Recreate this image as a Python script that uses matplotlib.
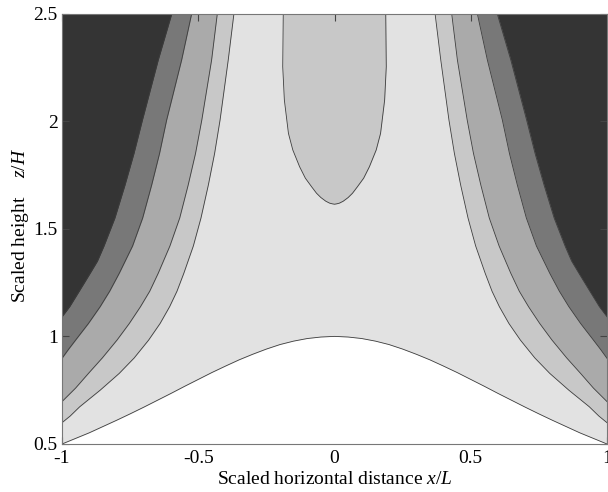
import matplotlib
matplotlib.use("Agg")
import matplotlib.pyplot as plt
import numpy as np

plt.rcParams['font.family'] = ['Liberation Serif', 'DejaVu Serif']
plt.rcParams['mathtext.fontset'] = 'custom'
plt.rcParams['mathtext.rm'] = 'Liberation Serif'
plt.rcParams['mathtext.it'] = 'Liberation Serif:italic'

# Hill (terrain) profile, left half (symmetric about x=0)
hill_x = [-1.0, -0.95, -0.9, -0.85, -0.8, -0.75, -0.7, -0.65, -0.6, -0.55, -0.5,
          -0.45, -0.4, -0.35, -0.3, -0.25, -0.2, -0.15, -0.1, -0.05, 0.0]
hill_y = [0.50, 0.526, 0.552, 0.581, 0.61, 0.64, 0.671, 0.703, 0.735, 0.768, 0.80,
          0.832, 0.862, 0.891, 0.917, 0.941, 0.962, 0.978, 0.99, 0.997, 1.0]

# Left-side contour boundaries: x position at given heights
b1_y = [2.5, 2.284, 2.005, 1.85, 1.703, 1.55, 1.42, 1.35, 1.293, 1.21, 1.138, 1.091]
b1_x = [-0.597, -0.647, -0.705, -0.736, -0.769, -0.806, -0.846, -0.870, -0.897,
        -0.937, -0.972, -1.0]

b2_y = [2.5, 2.284, 2.005, 1.85, 1.703, 1.55, 1.42, 1.293, 1.21, 1.138, 1.06,
        0.983, 0.94, 0.898]
b2_x = [-0.524, -0.561, -0.616, -0.642, -0.671, -0.704, -0.741, -0.790, -0.825,
        -0.860, -0.903, -0.950, -0.976, -1.0]

b3_y = [2.5, 2.284, 2.005, 1.85, 1.703, 1.55, 1.42, 1.293, 1.21, 1.138, 1.06,
        0.983, 0.9, 0.828, 0.76, 0.697]
b3_x = [-0.430, -0.451, -0.487, -0.510, -0.537, -0.568, -0.604, -0.647, -0.678,
        -0.712, -0.753, -0.798, -0.852, -0.903, -0.950, -1.0]

b4_y = [2.5, 2.284, 2.005, 1.85, 1.703, 1.55, 1.42, 1.293, 1.21, 1.138, 1.06,
        0.983, 0.9, 0.828, 0.75, 0.673, 0.63, 0.599]
b4_x = [-0.369, -0.39, -0.420, -0.440, -0.463, -0.49, -0.518, -0.553, -0.578,
        -0.605, -0.640, -0.682, -0.735, -0.790, -0.860, -0.935, -0.970, -1.0]

# Central closed-bottom region (left edge), symmetric
u_y = [2.5, 2.253, 2.098, 1.943, 1.866, 1.788, 1.735, 1.695, 1.665, 1.645, 1.628,
       1.619, 1.616, 1.614]
u_x = [-0.188, -0.19, -0.184, -0.169, -0.153, -0.128, -0.107, -0.084, -0.066,
       -0.050, -0.032, -0.018, -0.009, 0.0]

band_colors = ['#c8c8c8', '#aaaaaa', '#787878', '#343434']
bg_color = '#e2e2e2'
line_color = '#3c3c3c'

xticks = [-1, -0.5, 0, 0.5, 1]
xtick_labels = ['-1', '-0.5', '0', '0.5', '1']
yticks = [0.5, 1, 1.5, 2, 2.5]
ytick_labels = ['0.5', '1', '1.5', '2', '2.5']

fig = plt.figure(figsize=(6.08, 4.92), dpi=100)
ax = fig.add_axes([62/608, 48/492, 545/608, 430.5/492])
ax.set_xlim(-1, 1)
ax.set_ylim(0.5, 2.5)
ax.set_facecolor(bg_color)

hx = np.array(hill_x)
hy = np.array(hill_y)
full_hx = np.concatenate([hx, -hx[::-1][1:]])
full_hy = np.concatenate([hy, hy[::-1][1:]])

bands = [(b4_x, b4_y), (b3_x, b3_y), (b2_x, b2_y), (b1_x, b1_y)]
for (bx, by), col in zip(bands, band_colors):
    bx = np.array(bx); by = np.array(by)
    ax.fill_betweenx(by, -1, bx, color=col, lw=0)
    ax.fill_betweenx(by, -bx, 1, color=col, lw=0)

ux = np.array(u_x); uy = np.array(u_y)
ax.fill_betweenx(uy, ux, -ux, color=band_colors[0], lw=0)

# terrain
ax.fill_between(full_hx, 0.5, full_hy, color='white', lw=0, zorder=2)
ax.plot(full_hx, full_hy, color=line_color, lw=0.6, zorder=3)

for bx, by in bands:
    bx = np.array(bx); by = np.array(by)
    ax.plot(bx, by, color=line_color, lw=0.6, zorder=3)
    ax.plot(-bx, by, color=line_color, lw=0.6, zorder=3)
ax.plot(np.concatenate([ux, -ux[::-1]]), np.concatenate([uy, uy[::-1]]),
        color=line_color, lw=0.6, zorder=3)

ax.set_xticks(xticks)
ax.set_xticklabels(xtick_labels)
ax.set_yticks(yticks)
ax.set_yticklabels(ytick_labels)
ax.tick_params(direction='in', top=True, right=True, length=5, width=0.8,
               color='#444444', labelsize=14)
ax.tick_params(axis='x', pad=4)
ax.tick_params(axis='y', pad=3)
for s in ax.spines.values():
    s.set_color('#777777')
    s.set_linewidth(0.8)
    s.set_zorder(5)

ax.set_xlabel(r'Scaled horizontal distance $\it{x/L}$', fontsize=14)
ax.xaxis.label.set_va('center')
ax.xaxis.set_label_coords(0.5, (444 - 480) / 430.5)
ax.set_ylabel(r'Scaled height    $\it{z/H}$', fontsize=14)
ax.yaxis.label.set_va('center')
ax.yaxis.set_label_coords((21 - 62) / 545, (444 - 225) / 430.5)

fig.savefig('out.png', dpi=100)
